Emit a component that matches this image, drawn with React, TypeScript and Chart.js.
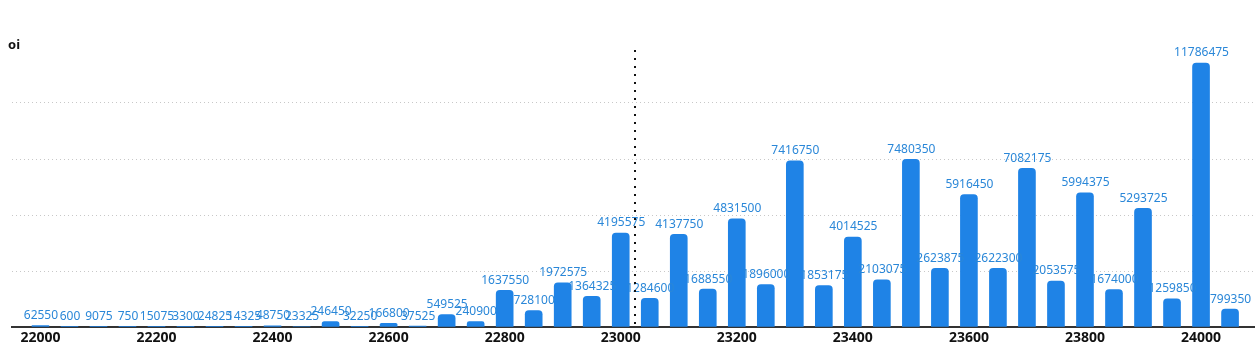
import React, { useEffect, useRef } from "react";
import { Chart, registerables } from "chart.js";

Chart.register(...registerables);

const STRIKES: number[] = [
  22000, 22050, 22100, 22150, 22200, 22250, 22300, 22350, 22400, 22450,
  22500, 22550, 22600, 22650, 22700, 22750, 22800, 22850, 22900, 22950,
  23000, 23050, 23100, 23150, 23200, 23250, 23300, 23350, 23400, 23450,
  23500, 23550, 23600, 23650, 23700, 23750, 23800, 23850, 23900, 23950,
  24000, 24050,
];

const OI: number[] = [
  62550, 600, 9075, 750, 15075, 3300, 24825, 14325, 48750, 23325,
  246450, 32250, 166800, 37525, 549525, 240900, 1637550, 728100, 1972575, 1364325,
  4195575, 1284600, 4137750, 1688550, 4831500, 1896000, 7416750, 1853175, 4014525, 2103075,
  7480350, 2623875, 5916450, 2622300, 7082175, 2053575, 5994375, 1674000, 5293725, 1259850,
  11786475, 799350,
];

const TICK_LABELS: number[] = [22000, 22200, 22400, 22600, 22800, 23000, 23200, 23400, 23600, 23800, 24000];
const SPOT = 23025;
const AXIS_TITLE = "oi";

const BAR_COLOR = "#1f83e6";
const LABEL_COLOR = "#2a87d8";
const FONT = "'Noto Sans', sans-serif";

export default function App() {
  const ref = useRef<HTMLCanvasElement | null>(null);

  useEffect(() => {
    const canvas = ref.current;
    if (!canvas) return;

    const labelPlugin = {
      id: "valueLabels",
      afterDatasetsDraw(chart: any) {
        const ctx = chart.ctx;
        const meta = chart.getDatasetMeta(0);
        ctx.save();
        ctx.font = `12px ${FONT}`;
        ctx.fillStyle = LABEL_COLOR;
        ctx.textAlign = "center";
        ctx.textBaseline = "bottom";
        meta.data.forEach((el: any, i: number) => {
          ctx.fillText(String(OI[i]), el.x + 0.5, el.y - 4);
        });
        ctx.restore();
      },
    };

    const spotPlugin = {
      id: "spotLine",
      afterDatasetsDraw(chart: any) {
        const ctx = chart.ctx;
        const x = Math.round(chart.scales.x.getPixelForValue(SPOT)) - 1;
        const { top, bottom } = chart.chartArea;
        ctx.save();
        ctx.fillStyle = "#111";
        for (let y = top + 3; y < bottom - 1; y += 8) {
          ctx.fillRect(x, y, 2, 2);
        }
        ctx.restore();
      },
    };

    const titlePlugin = {
      id: "axisTitle",
      afterDraw(chart: any) {
        const ctx = chart.ctx;
        ctx.save();
        ctx.font = `bold 13px ${FONT}`;
        ctx.fillStyle = "#111";
        ctx.textAlign = "left";
        ctx.textBaseline = "middle";
        ctx.fillText(AXIS_TITLE, 8, 45);
        ctx.restore();
      },
    };

    const chart = new Chart(canvas, {
      type: "bar",
      data: {
        datasets: [
          {
            label: "oi",
            data: STRIKES.map((s, i) => ({ x: s, y: OI[i] })),
            backgroundColor: BAR_COLOR,
            barThickness: 17,
            borderRadius: 4,
            borderSkipped: "start",
          },
        ],
      },
      options: {
        animation: false,
        responsive: false,
        maintainAspectRatio: false,
        layout: { padding: { left: 12, right: 0, top: 47, bottom: 0 } },
        plugins: {
          legend: { display: false },
          tooltip: { enabled: false },
          title: { display: false },
        },
        scales: {
          x: {
            type: "linear",
            min: 21951,
            max: 24093,
            offset: false,
            afterBuildTicks: (scale: any) => {
              scale.ticks = TICK_LABELS.map((v) => ({ value: v }));
            },
            afterFit: (scale: any) => {
              scale.height = 25;
            },
            ticks: {
              autoSkip: false,
              maxRotation: 0,
              padding: 3,
              color: "#111",
              font: { family: "'Noto Sans', sans-serif", size: 14, weight: "bold" },
              callback: (v: any) => String(v),
            },
            grid: { display: false, drawTicks: false },
            border: { display: true, color: "#333", width: 2 },
          },
          y: {
            min: 0,
            max: 12500000,
            afterBuildTicks: (scale: any) => {
              scale.ticks = [0, 2500000, 5000000, 7500000, 10000000, 12500000].map((v) => ({ value: v }));
            },
            afterFit: (scale: any) => {
              scale.width = 0;
            },
            ticks: { display: false },
            grid: {
              drawTicks: false,
              color: (c: any) =>
                c.tick && (c.tick.value === 0 || c.tick.value === 12500000) ? "rgba(0,0,0,0)" : "#c8c8c8",
              lineWidth: 1,
            },
            border: { display: false, dash: [1, 3] },
          },
        },
      },
      plugins: [labelPlugin, spotPlugin, titlePlugin],
    });

    return () => chart.destroy();
  }, []);

  return (
    <div style={{ position: "fixed", left: 0, top: 0, width: 1255, height: 352, background: "#fff" }}>
      <canvas ref={ref} width={1255} height={352} style={{ width: 1255, height: 352, display: "block" }} />
    </div>
  );
}
